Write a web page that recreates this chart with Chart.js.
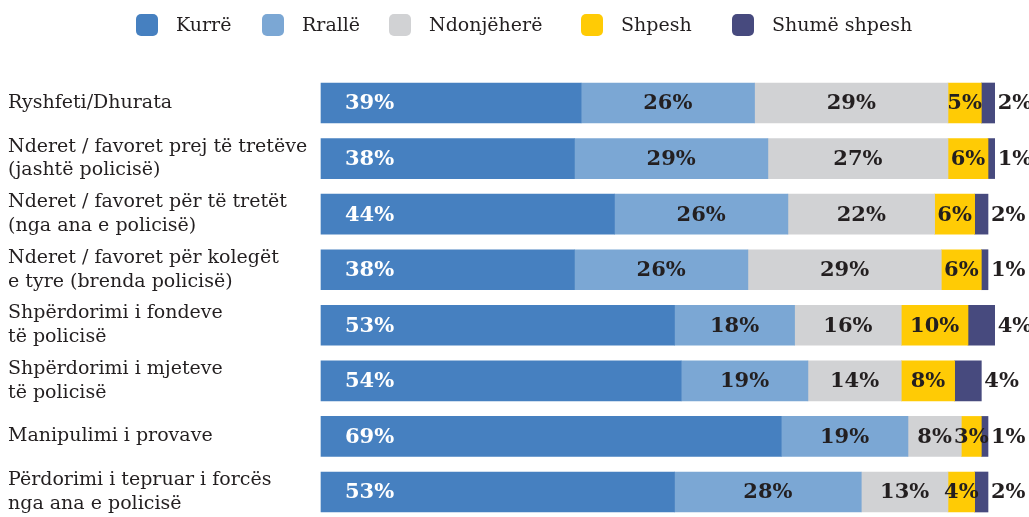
<!DOCTYPE html>
<html>
<head>
<meta charset="utf-8">
<script src="https://cdn.jsdelivr.net/npm/chart.js@4.4.0/dist/chart.umd.min.js"></script>
<style>
html,body{margin:0;padding:0;background:#fff;overflow:hidden}
#wrap{width:1029px;height:517px;position:relative}
</style>
</head>
<body>
<div id="wrap"><canvas id="chart"></canvas></div>
<script>
// categories (multi-line labels as arrays)
const categories = [
  'Ryshfeti/Dhurata',
  ['Nderet / favoret prej të tretëve', '(jashtë policisë)'],
  ['Nderet / favoret për të tretët', '(nga ana e policisë)'],
  ['Nderet / favoret për kolegët', 'e tyre (brenda policisë)'],
  ['Shpërdorimi i fondeve', 'të policisë'],
  ['Shpërdorimi i mjeteve', 'të policisë'],
  'Manipulimi i provave',
  ['Përdorimi i tepruar i forcës', 'nga ana e policisë']
];
const seriesNames = ['Kurrë', 'Rrallë', 'Ndonjëherë', 'Shpesh', 'Shumë shpesh'];

// percentages per answer
const kurre       = [39, 38, 44, 38, 53, 54, 69, 53];
const ralle       = [26, 29, 26, 26, 18, 19, 19, 28];
const ndonjehere  = [29, 27, 22, 29, 16, 14, 8, 13];
const shpesh      = [5, 6, 6, 6, 10, 8, 3, 4];
const shumeShpesh = [2, 1, 2, 1, 4, 4, 1, 2];

const colors = ['#4680c0', '#7ba7d4', '#d1d2d4', '#ffcb05', '#474a7e'];
const TEXT = '#231f20';
const SERIF = '"DejaVu Serif", serif';

// legend row across the top, rounded swatches at fixed x
const legendX = [136, 262, 389, 581, 732];
const topLegend = {
  id: 'topLegend',
  afterDraw(chart) {
    const ctx = chart.ctx;
    ctx.save();
    ctx.font = '19px ' + SERIF;
    ctx.textBaseline = 'middle';
    const y = 25;
    chart.data.datasets.forEach((ds, k) => {
      const x = legendX[k];
      ctx.fillStyle = ds.backgroundColor;
      ctx.beginPath();
      ctx.roundRect(x, y - 11, 22, 22, 5);
      ctx.fill();
      ctx.fillStyle = TEXT;
      ctx.fillText(ds.label, x + 40, y + 1);
    });
    ctx.restore();
  }
};

// percentage labels: first inside-left (white), last outside the bar, rest centred
const valueLabels = {
  id: 'valueLabels',
  afterDatasetsDraw(chart) {
    const ctx = chart.ctx;
    const last = chart.data.datasets.length - 1;
    ctx.save();
    ctx.font = 'bold 21px ' + SERIF;
    ctx.textBaseline = 'middle';
    chart.data.datasets.forEach((ds, di) => {
      chart.getDatasetMeta(di).data.forEach((bar, i) => {
        const {x, base, y} = bar.getProps(['x', 'base', 'y'], true);
        const txt = ds.data[i] + '%';
        if (di === 0) {
          ctx.fillStyle = '#fff'; ctx.textAlign = 'left';
          ctx.fillText(txt, base + 24, y + 1);
        } else if (di === last) {
          ctx.fillStyle = TEXT; ctx.textAlign = 'left';
          ctx.fillText(txt, x + 3, y + 1);
        } else {
          ctx.fillStyle = TEXT; ctx.textAlign = 'center';
          ctx.fillText(txt, (x + base) / 2, y + 1);
        }
      });
    });
    ctx.restore();
  }
};

const series = [kurre, ralle, ndonjehere, shpesh, shumeShpesh];

new Chart(document.getElementById('chart'), {
  type: 'bar',
  data: {
    labels: categories,
    datasets: series.map((d, k) => ({
      label: seriesNames[k],
      data: d,
      backgroundColor: colors[k],
      barThickness: 40,
      clip: false
    }))
  },
  options: {
    indexAxis: 'y',
    responsive: true,
    maintainAspectRatio: false,
    animation: false,
    layout: { padding: { top: 103, bottom: 25, left: 8, right: 41 } },
    plugins: { legend: { display: false }, tooltip: { enabled: false } },
    scales: {
      x: { stacked: true, min: 0, max: 100, display: false },
      y: {
        stacked: true,
        offset: false,
        grid: { display: false },
        border: { display: false },
        ticks: {
          crossAlign: 'far',
          color: TEXT,
          font: { family: SERIF, size: 19, lineHeight: 1.26 }
        },
        afterFit(s) { s.width = 313; }
      }
    }
  },
  plugins: [topLegend, valueLabels]
});
</script>
</body>
</html>
